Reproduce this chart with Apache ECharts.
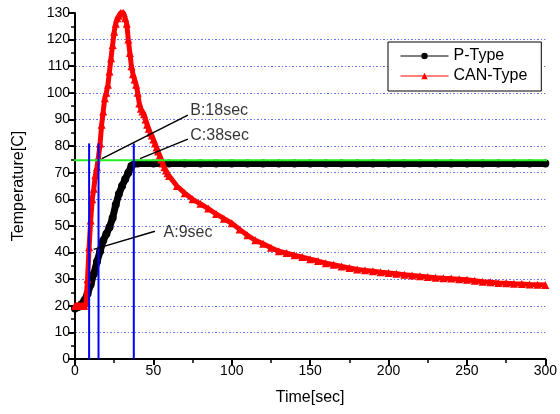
<!DOCTYPE html>
<html>
<head>
<meta charset="utf-8">
<script src="https://cdn.jsdelivr.net/npm/echarts@6/dist/echarts.min.js"></script>
<style>
  html, body { margin: 0; padding: 0; background: #fff; }
  #chart { width: 560px; height: 414px; }
</style>
</head>
<body>
<div id="chart"></div>
<script>
// P-Type readings (time in sec, temperature in C)
const pTime = [0, 2, 4, 6, 8, 10, 12, 14, 16, 18, 20, 22, 24, 26, 28, 30, 32, 34, 36, 38,
  40, 50, 60, 70, 80, 90, 100, 110, 120, 130, 140, 150, 160, 170, 180, 190, 200,
  210, 220, 230, 240, 250, 260, 270, 280, 290, 300];
const pTemp = [19, 19.5, 20.5, 22, 24.5, 28, 32, 36.5, 40.5, 44.5, 47, 49.5, 53, 58, 62, 65, 67.5, 70, 72.5, 73.5,
  73.5, 73.5, 73.5, 73.5, 73.5, 73.5, 73.5, 73.5, 73.5, 73.5, 73.5, 73.5, 73.5, 73.5, 73.5, 73.5, 73.5,
  73.5, 73.5, 73.5, 73.5, 73.5, 73.5, 73.5, 73.5, 73.5, 73.5];

// CAN-Type readings
const canTime = [0, 1, 2, 3, 4, 5, 6, 7, 8, 9, 10, 11, 12, 13, 14, 15, 16, 17, 18, 19,
  20, 21, 22, 23, 24, 25, 26, 27, 28, 29, 30, 31, 32, 33, 34, 35, 36, 37, 38, 39,
  40, 41, 42, 43, 44, 45, 46, 47, 48, 49, 50, 51, 52, 53, 54, 55, 56, 57, 58, 59, 60,
  65, 70, 75, 80, 85, 90, 95, 100, 105, 110, 115, 120, 125, 130, 135, 140, 145, 150,
  155, 160, 165, 170, 175, 180, 185, 190, 195, 200, 205, 210, 215, 220, 225, 230,
  235, 240, 245, 250, 255, 260, 265, 270, 275, 280, 285, 290, 295, 300];
const canTemp = [20, 20, 20, 20, 20, 20, 20, 21, 30, 42, 52, 60, 64, 69, 72, 76, 81, 88, 93, 98,
  100, 103, 108, 113, 118, 123, 126, 128, 129, 130, 130, 130, 128, 126, 120, 115, 110, 107, 105, 103,
  100, 96, 94, 93, 92, 90, 88, 86.5, 85, 84, 82.5, 81, 79.5, 78, 76.5, 75, 73.5, 72, 70.8, 69.8, 68.8,
  65, 62.3, 60, 58.3, 56.5, 54.5, 52.7, 51, 48.7, 46.5, 44.6, 43.3, 41.8, 40.5, 39.8, 39, 38.3, 37.5,
  36.8, 36, 35.4, 34.8, 34.2, 33.6, 33.3, 33, 32.6, 32.3, 32, 31.7, 31.4, 31.1, 30.8, 30.5,
  30.3, 30.2, 30, 29.8, 29.4, 29, 28.8, 28.6, 28.5, 28.3, 28.2, 28, 27.9, 27.8];

// reference markers
const markerTimes = [9, 15, 37.5];
const markerTop = 81;
const refTemp = 74.7;
const refSpan = [-2, 306];

// annotations: text, text anchor, leader start, leader end
const noteText = ['B:18sec', 'C:38sec', 'A:9sec'];
const noteAt = [[73.5, 93.2], [73.5, 84], [56.5, 47.5]];
const leaderFrom = [[72, 91.6], [72, 82.6], [51, 48]];
const leaderTo = [[17.2, 75.3], [41.5, 75.3], [11.9, 41.2]];

const font = 'Arial, "Liberation Sans", sans-serif';
const zip = (xs, ys) => xs.map((x, i) => [x, ys[i]]);

const series = [
  {
    name: 'P-Type',
    type: 'line',
    data: zip(pTime, pTemp),
    symbol: 'circle',
    symbolSize: 8,
    itemStyle: { color: '#000' },
    lineStyle: { color: '#000', width: 7 },
    z: 3
  },
  {
    name: 'CAN-Type',
    type: 'line',
    data: zip(canTime, canTemp),
    symbol: 'triangle',
    symbolSize: 8,
    itemStyle: { color: '#ff0000' },
    lineStyle: { color: '#ff0000', width: 5 },
    z: 4
  },
  {
    name: 'ref',
    type: 'line',
    data: refSpan.map(t => [t, refTemp]),
    symbol: 'none',
    clip: false,
    lineStyle: { color: '#22ee22', width: 2 },
    z: 5
  }
];

markerTimes.forEach(t => {
  series.push({
    name: 'marker',
    type: 'line',
    data: [[t, 0], [t, markerTop]],
    symbol: 'none',
    lineStyle: { color: '#0000ff', width: 2 },
    z: 6
  });
});

leaderFrom.forEach((p, i) => {
  series.push({
    name: 'leader',
    type: 'line',
    data: [p, leaderTo[i]],
    symbol: 'none',
    clip: false,
    lineStyle: { color: '#000', width: 1.5 },
    z: 7
  });
});

series.push({
  name: 'notes',
  type: 'scatter',
  data: noteAt.map((p, i) => [p[0], p[1], noteText[i]]),
  symbolSize: 0,
  clip: false,
  label: {
    show: true,
    position: 'right',
    distance: 0,
    formatter: p => p.data[2],
    color: '#000',
    fontSize: 16,
    fontFamily: font
  },
  z: 8
});

const chart = echarts.init(document.getElementById('chart'));
chart.setOption({
  animation: false,
  backgroundColor: '#fff',
  textStyle: { fontFamily: font },
  grid: { left: 75, right: 12, top: 13, bottom: 55 },
  legend: {
    data: ['P-Type', 'CAN-Type'],
    orient: 'vertical',
    left: 388,
    top: 42,
    padding: [6, 14, 7, 12],
    itemGap: 4,
    itemWidth: 48,
    itemHeight: 8,
    borderColor: '#000',
    borderWidth: 1,
    backgroundColor: '#fff',
    lineStyle: { width: 1 },
    textStyle: { color: '#000', fontSize: 16, fontFamily: font }
  },
  xAxis: {
    type: 'value',
    min: 0,
    max: 300,
    interval: 50,
    name: 'Time[sec]',
    nameLocation: 'middle',
    nameGap: 31,
    nameTextStyle: { color: '#000', fontSize: 16, fontFamily: font },
    axisLine: { onZero: false, lineStyle: { color: '#000', width: 2 } },
    axisTick: { show: true, length: 6, lineStyle: { color: '#000', width: 2 } },
    minorTick: { show: true, splitNumber: 2, length: 4, lineStyle: { color: '#000', width: 1.5 } },
    axisLabel: { color: '#000', fontSize: 14, margin: 5 },
    splitLine: { show: false }
  },
  yAxis: {
    type: 'value',
    min: 0,
    max: 130,
    interval: 10,
    name: 'Temperature[C]',
    nameLocation: 'middle',
    nameGap: 48,
    nameTextStyle: { color: '#000', fontSize: 16, fontFamily: font },
    axisLine: { show: true, onZero: false, lineStyle: { color: '#000', width: 2 } },
    axisTick: { show: true, length: 7, lineStyle: { color: '#000', width: 2 } },
    minorTick: { show: true, splitNumber: 2, length: 4, lineStyle: { color: '#000', width: 1.5 } },
    axisLabel: { color: '#000', fontSize: 14, margin: 5 },
    splitLine: {
      show: true,
      showMaxLine: false,
      lineStyle: { color: '#6677ff', width: 1, type: [2, 2, 1, 2] }
    }
  },
  series: series
});
</script>
</body>
</html>
